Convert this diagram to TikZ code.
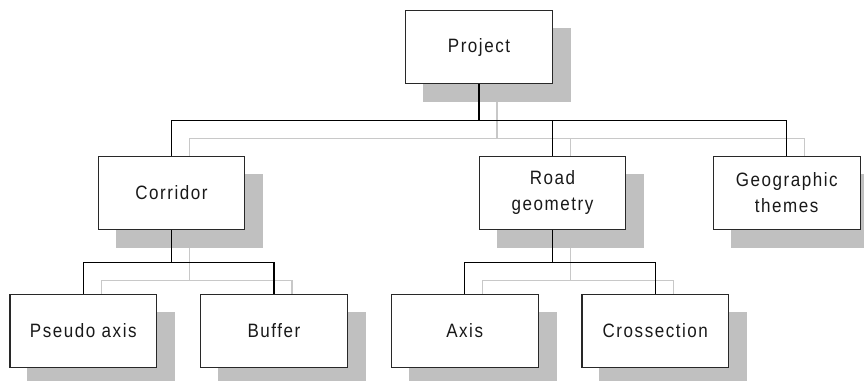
\documentclass[tikz,border=0pt]{standalone}
\usepackage{fontspec}
\setmainfont{Liberation Sans}[LetterSpace=8, FakeStretch=0.88]
\definecolor{shadegray}{RGB}{192,192,192}
\definecolor{linegray}{RGB}{200,200,200}
\definecolor{boxline}{RGB}{40,40,40}
\pgfdeclarelayer{background}
\pgfsetlayers{background,main}
\tikzset{
  box/.style={draw=boxline, fill=white, line width=0.8pt, minimum width=110pt,
    minimum height=54.5pt, inner sep=2pt, align=center, text=black!90,
    font=\fontsize{14.5}{19.5}\selectfont},
  link/.style={draw=black, line width=0.8pt},
  ghost/.style={draw=linegray, line width=0.8pt},
  sh/.style={shift={(18,18)}}
}
\begin{document}
\begin{tikzpicture}[x=0.75pt, y=-0.75pt]
        \useasboundingbox (0,0) rectangle (864,381);
        % ---- boxes ----
        \node[box] (proj)   at (479,47.3)   {Project};
        \node[box] (corr)   at (171.5,193)  {Corridor};
        \node[box] (road)   at (552.5,193)  {Road\\geometry};
        \node[box] (geo)    at (786.7,193)  {Geographic\\themes};
        \node[box] (pseudo) at (83.3,331)   {Pseudo axis};
        \node[box] (buffer) at (274,331)    {Buffer};
        \node[box] (axis)   at (464.7,331)  {Axis};
        \node[box] (cross)  at (655.3,331)  {Crossection};
        \begin{pgfonlayer}{background}
        % ---- shadow connectors ----
        \foreach \p/\c/\d in {proj/corr/36.5, proj/road/36.5, proj/geo/36.5,
            corr/pseudo/33, corr/buffer/33, road/axis/33, road/cross/33} {
            \draw[ghost] ([sh]\p.south) -- ++(0,\d) -| ([sh]\c.north);
        }
        % ---- drop shadows ----
        \foreach \n in {proj, corr, road, geo, pseudo, buffer, axis, cross} {
            \fill[shadegray] ([sh]\n.south west) rectangle ([sh]\n.north east);
        }
        % ---- connectors ----
        \foreach \p/\c/\d in {proj/corr/36.5, proj/road/36.5, proj/geo/36.5,
            corr/pseudo/33, corr/buffer/33, road/axis/33, road/cross/33} {
            \draw[link] (\p.south) -- ++(0,\d) -| (\c.north);
        }
        \end{pgfonlayer}
\end{tikzpicture}
\end{document}
